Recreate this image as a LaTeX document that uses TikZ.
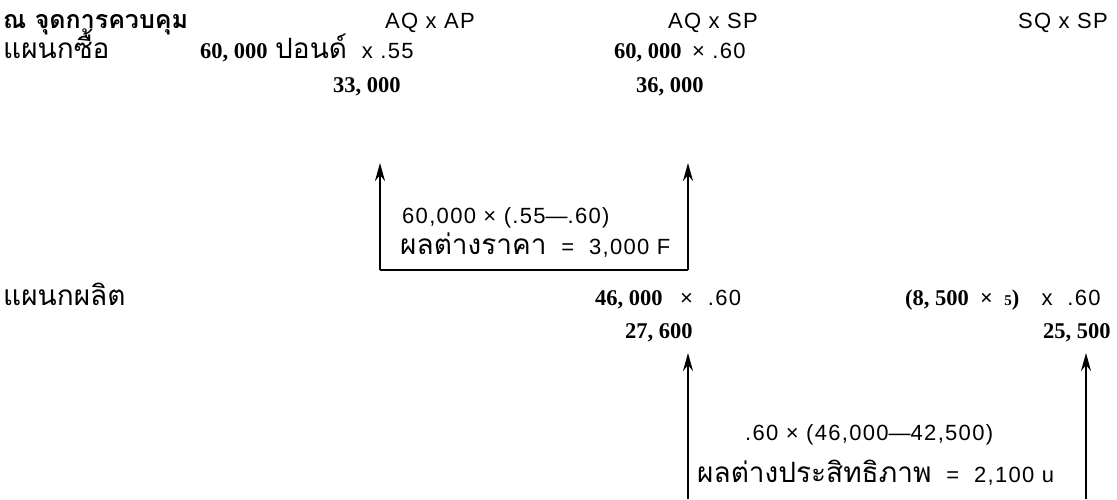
\documentclass[tikz,border=0pt]{standalone}
\usepackage{fontspec}
\setmainfont{Liberation Sans}
\newfontfamily\wide[LetterSpace=6]{Liberation Sans}
\newfontfamily\thai[Script=Thai]{Loma}
\newfontfamily\numf{Liberation Serif}
\usetikzlibrary{arrows.meta}
\newcommand{\fsz}{\fontsize{22}{26}\selectfont}
\newcommand{\tsz}{\fontsize{28}{31}\selectfont}
\newcommand{\mdash}{{\normalfont\fontsize{22}{26}\selectfont\textemdash}}
\tikzset{
  lbl/.style={anchor=base west, inner sep=0pt, font=\wide\fsz},
  th/.style={anchor=base west, inner sep=0pt, font=\thai\tsz},
  thb/.style={anchor=base west, inner sep=0pt, font=\thai\bfseries\fontsize{25}{28}\selectfont},
  num/.style={anchor=base west, inner sep=0pt, font=\numf\bfseries\fontsize{22.5}{26}\selectfont},
  mixed/.style={anchor=base west, inner sep=0pt, font=\wide\fsz},
  conn/.style={line width=2.2pt},
  arr/.style={line width=2.2pt, -{Stealth[length=18pt,width=10pt]}},
}
\begin{document}
\begin{tikzpicture}[x=1pt,y=-1pt]
\useasboundingbox (0,0) rectangle (1117,499);
% header
\node[thb] (title) at (3,28) {ณ จุดการควบคุม};
\node[lbl] (h1) at (385,28) {AQ x AP};
\node[lbl] (h2) at (668,28) {AQ x SP};
\node[lbl] (h3) at (1018,28) {SQ x SP};
% purchasing
\node[th] (buy) at (3,58) {แผนกซื้อ};
\node[num] (a1) at (200,58) {60, 000};
\node[mixed] (a1b) at (275,58) {{\thai\tsz ปอนด์}\ \ x\ .55};
\node[num] (a2) at (614,58) {60, 000};
\node[lbl] (a2b) at (692,58) {\texttimes\ .60};
\node[num] (r1) at (333,92) {33, 000};
\node[num] (r2) at (636,92) {36, 000};
\node[lbl] (t1) at (402,223) {60,000\ \texttimes\ (.55\mdash.60)};
\node[mixed] (t2) at (400,254) {{\thai\tsz ผลต่างราคา}\ \ =\ \ 3,000 F};
\coordinate (p1) at (380,163);
\coordinate (p2) at (380,270);
\coordinate (p3) at (688,270);
\coordinate (p4) at (688,163);
\draw[conn] (p2) -- (p3);
\draw[arr] (p2) -- (p1);
\draw[arr] (p3) -- (p4);
% production
\node[th] (prod) at (3,305) {แผนกผลิต};
\node[num] (b1) at (595,305) {46, 000};
\node[lbl] (b1b) at (680,305) {\texttimes\ \ .60};
\node[mixed] (b2) at (905,305) {{\numf\bfseries\fontsize{22.5}{26}\selectfont (8, 500\ \ \texttimes\ \ {\fontsize{15}{18}\selectfont 5})}\ \ \ x\ \ .60};
\node[num] (r3) at (625,338) {27, 600};
\node[num] (r4) at (1043,338) {25, 500};
\node[lbl] (t3) at (745,440) {.60\ \texttimes\ (46,000\mdash42,500)};
\node[mixed] (t4) at (697,482) {{\thai\tsz ผลต่างประสิทธิภาพ}\ \ =\ \ 2,100 u};
\coordinate (q1) at (688,499);
\coordinate (q2) at (688,353);
\coordinate (q3) at (1086,499);
\coordinate (q4) at (1086,353);
\draw[arr] (q1) -- (q2);
\draw[arr] (q3) -- (q4);
\end{tikzpicture}
\end{document}
